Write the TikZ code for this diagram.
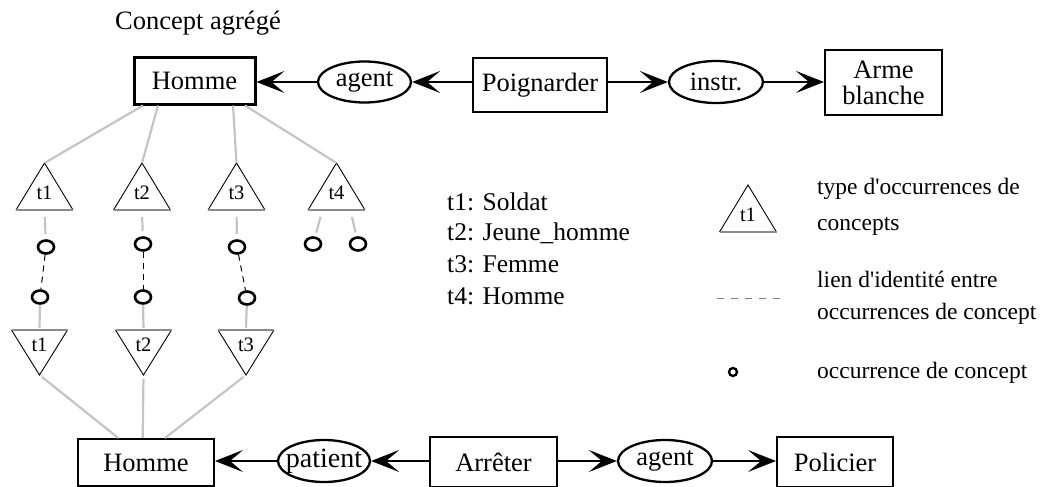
\documentclass[tikz,border=0pt]{standalone}
\usepackage{fontspec}
\setmainfont{Liberation Serif}
\usetikzlibrary{shapes.geometric,arrows.meta}
\definecolor{agggray}{HTML}{C4C4C4}
\definecolor{basegray}{HTML}{8A8A8A}
\definecolor{dashgray}{HTML}{808080}
\begin{document}
\begin{tikzpicture}[x=1pt,y=-1pt,
  box/.style={draw,line width=2pt,inner sep=0pt,font=\fontsize{26.5}{26}\selectfont},
  rel/.style={draw,ellipse,line width=2.3pt,inner sep=0pt},
  reltext/.style={inner sep=0pt,font=\fontsize{26.5}{30}\selectfont},
  arr/.style={line width=2.2pt,-{Stealth[length=28pt,width=22pt,inset=13pt,line width=1.2pt]}},
  occ/.style={draw,ellipse,line width=2.6pt,minimum width=16pt,minimum height=13pt,inner sep=0pt},
  typ/.style={line width=0.9pt},
  tbase/.style={line width=1.6pt,draw=basegray},
  agg/.style={draw=agggray,line width=2.2pt},
  ident/.style={line width=1pt,dash pattern=on 6pt off 5pt},
  tlab/.style={inner sep=0pt,font=\fontsize{20.5}{22}\selectfont},
  listtext/.style={inner sep=0pt,anchor=base west,font=\fontsize{25.5}{30}\selectfont},
  legtext/.style={inner sep=0pt,anchor=base west,font=\fontsize{23.5}{28}\selectfont},
  pics/uptri/.style={code={
    \coordinate (-apex) at (0,0);
    \coordinate (-base) at (0,47);
    \draw[typ] (-28.5,47) -- (0,0) -- (28.5,47);
    \draw[tbase] (-28.5,47) -- (28.5,47);
    \node[tlab] at (0,30) {#1};
  }},
  pics/downtri/.style={code={
    \coordinate (-base) at (0,0);
    \coordinate (-apex) at (0,45);
    \draw[typ] (-28,0) -- (0,45) -- (28,0);
    \draw[tbase] (-28,0) -- (28,0);
    \node[tlab] at (0,15) {#1};
  }},
]
\useasboundingbox (0,0) rectangle (1058,487);

% title
\node[reltext,anchor=base west] (title) at (115,30) {Concept agrégé};

% upper conceptual graph
\node[box,line width=3pt,minimum width=121pt,minimum height=46pt] (homme1) at (194.5,81) {Homme};
\node[rel,minimum width=93pt,minimum height=41pt] (agent1) at (364.5,82) {};
\node[reltext] at (agent1) {agent};
\node[box,minimum width=134pt,minimum height=54pt] (poign) at (540,85) {Poignarder};
\node[rel,minimum width=94pt,minimum height=42pt] (instr) at (716,82) {};
\node[reltext] at (instr) {instr.};
\node[box,align=center,minimum width=117pt,minimum height=65pt] (arme) at (883.5,82.5) {Arme\\blanche};

\draw[arr] (agent1) -- (agent1 -| homme1.east);
\draw[arr] (poign.west |- agent1) -- (agent1);
\draw[arr] (poign.east |- instr) -- (instr);
\draw[arr] (instr) -- (instr -| arme.west);

% lower conceptual graph
\node[box,minimum width=136pt,minimum height=47pt] (homme2) at (146,462.5) {Homme};
\node[rel,minimum width=92pt,minimum height=42pt] (patient) at (324,461) {};
\node[reltext,font=\fontsize{28}{30}\selectfont] at (patient) {patient};
\node[box,minimum width=127pt,minimum height=50pt] (arreter) at (493.5,462) {Arrêter};
\node[rel,minimum width=94pt,minimum height=42pt] (agent2) at (665,461) {};
\node[reltext] at (agent2) {agent};
\node[box,minimum width=116pt,minimum height=50pt] (policier) at (835,462) {Policier};

\draw[arr] (patient) -- (patient -| homme2.east);
\draw[arr] (arreter.west |- patient) -- (patient);
\draw[arr] (arreter.east |- agent2) -- (agent2);
\draw[arr] (agent2) -- (agent2 -| policier.west);

% occurrence types under the aggregated concept
\pic (T1) at (44.5,163) {uptri=t1};
\pic (T2) at (142,163) {uptri=t2};
\pic (T3) at (236.5,163) {uptri=t3};
\pic (T4) at (336.5,163) {uptri=t4};

\draw[agg] ([xshift=-51.5pt]homme1.south) -- (T1-apex);
\draw[agg] ([xshift=-36.5pt]homme1.south) -- (T2-apex);
\draw[agg] ([xshift=38.5pt]homme1.south) -- (T3-apex);
\draw[agg] ([xshift=50.5pt]homme1.south) -- (T4-apex);

% concept occurrences
\node[occ] (c1a) at (46,247) {};
\node[occ] (c1b) at (40,297) {};
\node[occ] (c2a) at (143,244) {};
\node[occ] (c2b) at (143,297) {};
\node[occ] (c3a) at (237,247) {};
\node[occ] (c3b) at (247,298) {};
\node[occ] (c4a) at (313,244) {};
\node[occ] (c4b) at (358,244) {};

\draw[agg,shorten <=7pt,shorten >=5pt] (T1-base) -- (c1a);
\draw[agg,shorten <=7pt,shorten >=5pt] (T2-base) -- (c2a);
\draw[agg,shorten <=7pt,shorten >=5pt] (T3-base) -- (c3a);
\draw[agg,shorten <=7pt,shorten >=4pt] ([xshift=-14pt]T4-base) -- (c4a);
\draw[agg,shorten <=7pt,shorten >=4pt] ([xshift=14pt]T4-base) -- (c4b);

% identity links
\draw[ident] (c1a) -- (c1b);
\draw[ident] (c2a) -- (c2b);
\draw[ident] (c3a) -- (c3b);

% occurrence types above the second concept
\pic (B1) at (39.5,330) {downtri=t1};
\pic (B2) at (143.5,330) {downtri=t2};
\pic (B3) at (246,330) {downtri=t3};

\draw[agg,shorten >=2pt] (c1b) -- (B1-base);
\draw[agg,shorten >=2pt] (c2b) -- (B2-base);
\draw[agg,shorten >=2pt] (c3b) -- (B3-base);

\draw[agg,shorten <=3pt] (B1-apex) -- ([xshift=-27.7pt]homme2.north);
\draw[agg,shorten <=4pt] (B2-apex) -- ([xshift=-3.3pt]homme2.north);
\draw[agg,shorten <=3pt] (B3-apex) -- ([xshift=19pt]homme2.north);

% type list
\node[listtext] (l1) at (447,210.7) {t1: Soldat};
\node[listtext] (l2) at (447,240.7) {t2: Jeune\_homme};
\node[listtext] (l3) at (447,272.4) {t3: Femme};
\node[listtext] (l4) at (447,304) {t4: Homme};

% legend
\pic (LT) at (748,185) {uptri=t1};
\node[legtext] (g1) at (817,194) {type d\textquotesingle occurrences de};
\node[legtext] (g2) at (817,230.3) {concepts};
\coordinate (dl) at (717,298);
\coordinate (dr) at (783,298);
\draw[line width=1pt,draw=dashgray,dash pattern=on 7pt off 7pt] (dl) -- (dr);
\node[legtext] (g3) at (817,287) {lien d\textquotesingle identité entre};
\node[legtext] (g4) at (817,319.3) {occurrences de concept};
\node[draw,circle,line width=2.3pt,minimum size=8pt,inner sep=0pt] (lc) at (733,372) {};
\node[legtext] (g5) at (817,378.3) {occurrence de concept};
\end{tikzpicture}
\end{document}
